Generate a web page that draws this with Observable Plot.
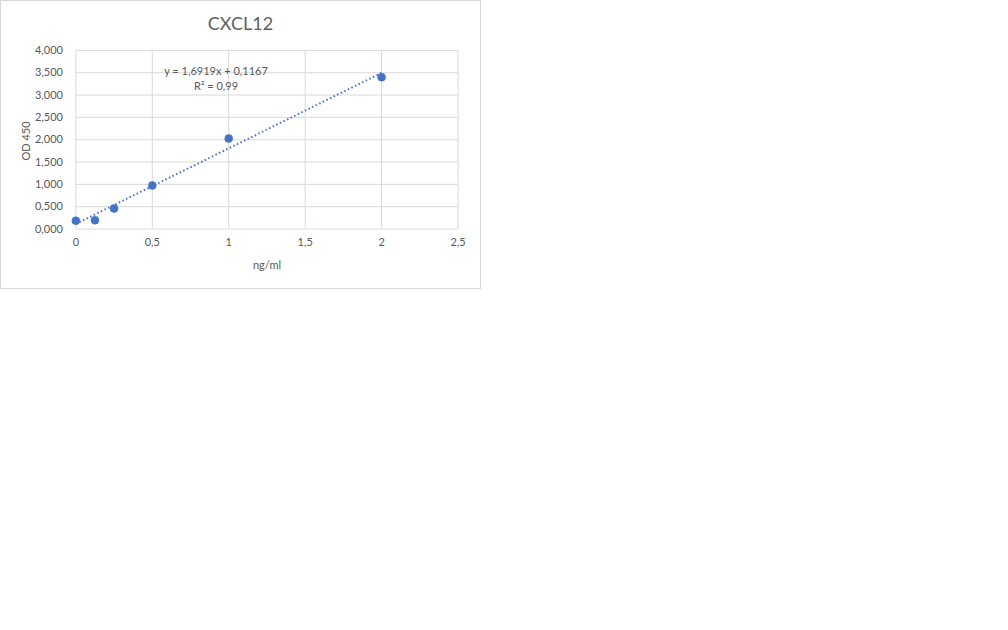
<!DOCTYPE html>
<html>
<head>
<meta charset="utf-8">
<script src="https://cdn.jsdelivr.net/npm/d3@7"></script>
<script src="https://cdn.jsdelivr.net/npm/@observablehq/plot@0.6"></script>
<style>
  html, body { margin: 0; padding: 0; background: #fff; }
  body { width: 1008px; height: 630px; position: relative; overflow: hidden; font-family: Lato, "Open Sans", sans-serif; }
  #box { position: absolute; left: 0; top: 0; width: 479px; height: 287px; border: 1px solid #d6d6d6; background: #fff; }
  #chart { position: absolute; left: -1px; top: -1px; }
  .lbl { position: absolute; color: #595959; white-space: nowrap; }
  #title { left: 0; width: 479px; top: 11px; text-align: center; font-size: 18px; color: #606060; }
  #eq { left: 140px; width: 150px; top: 62px; text-align: center; font-size: 11px; line-height: 15px; }
  #xlab { left: 216px; width: 100px; top: 257px; text-align: center; font-size: 11px; }
  #ylab { left: 24px; top: 140px; font-size: 11px; transform: translate(-50%, -50%) rotate(-90deg); }
</style>
</head>
<body>
<div id="box">
  <div id="chart"></div>
  <div class="lbl" id="title">CXCL12</div>
  <div class="lbl" id="eq"></div>
  <div class="lbl" id="xlab"></div>
  <div class="lbl" id="ylab"></div>
</div>
<script>
// Data
const concentration = [0, 0.125, 0.25, 0.5, 1, 2];      // ng/ml
const od450 = [0.185, 0.196, 0.46, 0.976, 2.027, 3.40];  // OD 450
const xTicks = [0, 0.5, 1, 1.5, 2, 2.5];
const yTicks = [0, 0.5, 1, 1.5, 2, 2.5, 3, 3.5, 4];
const chartTitle = "CXCL12";
const xTitle = "ng/ml";
const yTitle = "OD 450";
const equationLines = ["y = 1,6919x + 0,1167", "R² = 0,99"];

const points = concentration.map((c, i) => ({x: c, y: od450[i]}));
const comma = s => s.replace(".", ",");
const blue = "#4472c4";
const grid = "#d9d9d9";
const textColor = "#595959";

document.getElementById("title").textContent = chartTitle;
document.getElementById("xlab").textContent = xTitle;
document.getElementById("ylab").textContent = yTitle;
document.getElementById("eq").innerHTML = equationLines.join("<br>");

const chart = Plot.plot({
  width: 481,
  height: 289,
  marginLeft: 75.5,
  marginRight: 22.5,
  marginTop: 50,
  marginBottom: 60,
  style: {fontFamily: "Lato, 'Open Sans', sans-serif", fontSize: "11px", color: textColor, background: "transparent"},
  x: {domain: [0, 2.5], ticks: xTicks, label: null},
  y: {domain: [0, 4], ticks: yTicks, label: null},
  marks: [
    Plot.gridX(xTicks, {stroke: grid, strokeOpacity: 1}),
    Plot.gridY(yTicks, {stroke: grid, strokeOpacity: 1}),
    Plot.axisX(xTicks, {tickSize: 0, tickPadding: 9, tickFormat: d => comma(String(d)), fill: textColor, label: null}),
    Plot.axisY(yTicks, {tickSize: 0, tickPadding: 13, tickFormat: d => comma(d3.format(".3f")(d)), fill: textColor, label: null}),
    Plot.linearRegressionY(points, {x: "x", y: "y", ci: 0, stroke: blue, strokeWidth: 2, strokeDasharray: "1.5,2.5", strokeLinecap: "butt"}),
    Plot.dot(points, {x: "x", y: "y", r: 4, fill: blue, stroke: blue, strokeWidth: 0.5})
  ]
});
document.getElementById("chart").appendChild(chart);
</script>
</body>
</html>
